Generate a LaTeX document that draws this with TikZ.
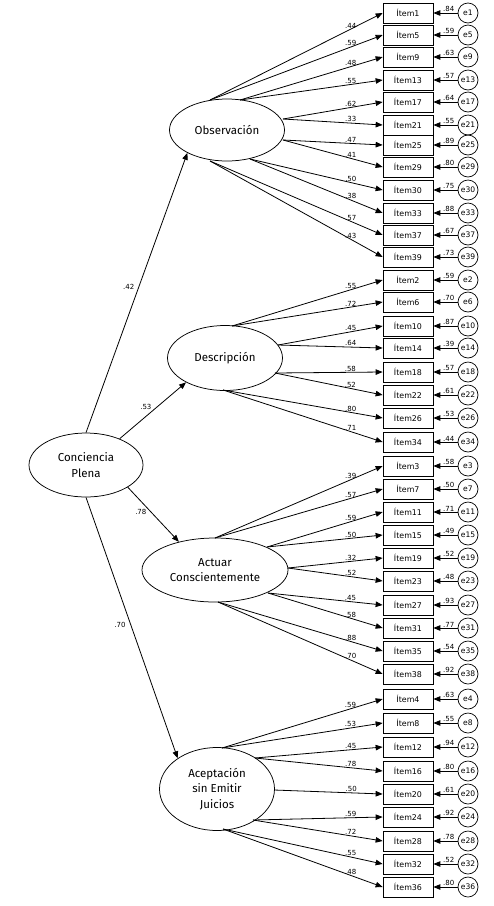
\documentclass[tikz,border=0pt]{standalone}
\usepackage{fontspec}
\setmainfont{DejaVu Sans}
\newfontfamily\latfont{Fira Sans}
\usetikzlibrary{arrows.meta,shapes.geometric}
\begin{document}
\begin{tikzpicture}[x=1pt,y=-1pt,
  itembox/.style={draw, line width=0.7pt, minimum width=50pt, minimum height=20pt, inner sep=0pt, font=\fontsize{7.9}{9}\selectfont},
  errc/.style={draw, line width=0.7pt, circle, minimum size=20pt, inner sep=0pt, font=\fontsize{7.6}{9}\selectfont},
  latent/.style={draw, line width=0.75pt, ellipse, inner sep=0pt, align=center, font=\latfont\fontsize{11.5}{15.5}\selectfont},
  arr/.style={-{Triangle[length=7pt,width=5.5pt]}, line width=0.8pt},
  coef/.style={font=\fontsize{7}{7}\selectfont, above, inner sep=0.6pt},
  scoef/.style={font=\fontsize{7}{7}\selectfont, inner sep=1pt},
]
\useasboundingbox (0,0) rectangle (494,906);

% latent variables
\node[latent, minimum width=115pt, minimum height=62pt] (obs) at (227,130) {Observación};
\node[latent, minimum width=115pt, minimum height=65pt] (des) at (225,358) {Descripción};
\node[latent, minimum width=114pt, minimum height=64pt] (cp) at (86,465) {Conciencia\\Plena};
\node[latent, minimum width=146pt, minimum height=64pt] (act) at (215,570) {Actuar\\Conscientemente};
\node[latent, minimum width=115pt, minimum height=83pt] (ace) at (217,789) {Aceptación\\sin Emitir\\Juicios};

% second order paths
\draw[arr] (cp.north) -- node[scoef, pos=0.52, left=3pt] {.42} (obs.210);
\draw[arr] (cp.38) -- node[scoef, pos=0.5, above left=0pt] {.53} (des.212);
\draw[arr] (cp.-28) -- node[scoef, pos=0.45, left=3pt] {.78} (act.142);
\draw[arr] (cp.south) -- node[scoef, pos=0.49, left=4pt] {.70} (ace.142);

% start points of loadings on the ellipses
\coordinate (oA) at (210,100);
\coordinate (oB) at (240,100);
\coordinate (oC) at (283,119);
\coordinate (oD) at (283,140);
\coordinate (oE) at (250,159);
\coordinate (oF) at (210,161);
\coordinate (dA) at (232,326);
\coordinate (dB) at (278,345);
\coordinate (dC) at (275,373);
\coordinate (dD) at (223,390);
\coordinate (aA) at (215,538);
\coordinate (aB) at (267,547);
\coordinate (aC) at (288,568);
\coordinate (aD) at (268,593);
\coordinate (aE) at (218,602);
\coordinate (cA) at (222,748);
\coordinate (cB) at (255,758);
\coordinate (cC) at (274,790);
\coordinate (cD) at (253,820);
\coordinate (cE) at (223,829);

\foreach \n/\yy/\cc/\pp/\cf/\ef in {
  1/13/oA/0.815/.44/.84, 5/35/oA/0.815/.59/.59,
  9/57/oB/0.776/.48/.63, 13/80/oB/0.776/.55/.57,
  17/102/oC/0.68/.62/.64, 21/125/oC/0.68/.33/.55,
  25/145/oD/0.68/.47/.89, 29/167/oD/0.68/.41/.80,
  30/190/oE/0.76/.50/.75, 33/213/oE/0.76/.38/.88,
  37/235/oF/0.815/.57/.67, 39/257/oF/0.815/.43/.73,
  2/280/dA/0.788/.55/.59, 6/302/dA/0.788/.72/.70,
  10/326/dB/0.695/.45/.87, 14/348/dB/0.695/.64/.39,
  18/372/dC/0.70/.58/.57, 22/395/dC/0.70/.52/.61,
  26/418/dD/0.80/.80/.53, 34/442/dD/0.80/.71/.44,
  3/466/aA/0.81/.39/.58, 7/489/aA/0.81/.57/.50,
  11/512/aB/0.724/.59/.71, 15/535/aB/0.724/.50/.49,
  19/558/aC/0.663/.32/.52, 23/581/aC/0.663/.52/.48,
  27/605/aD/0.72/.45/.93, 31/628/aD/0.72/.58/.77,
  35/651/aE/0.806/.88/.54, 38/674/aE/0.806/.70/.92,
  4/699/cA/0.80/.59/.63, 8/723/cA/0.80/.53/.55,
  12/747/cB/0.75/.45/.94, 16/771/cB/0.75/.78/.80,
  20/794/cC/0.71/.50/.61,
  24/817/cD/0.754/.59/.92, 28/841/cD/0.754/.72/.78,
  32/864/cE/0.80/.55/.52, 36/887/cE/0.80/.48/.80}{
  \node[itembox] (i\n) at (408,\yy) {Ítem\n};
  \node[errc] (e\n) at (468,\yy) {e\n};
  \draw[arr] (\cc) -- node[coef, pos=\pp] {\cf} (i\n.west);
  \draw[arr] (e\n) -- node[coef, pos=0.37] {\ef} (i\n.east);
}
\end{tikzpicture}
\end{document}
